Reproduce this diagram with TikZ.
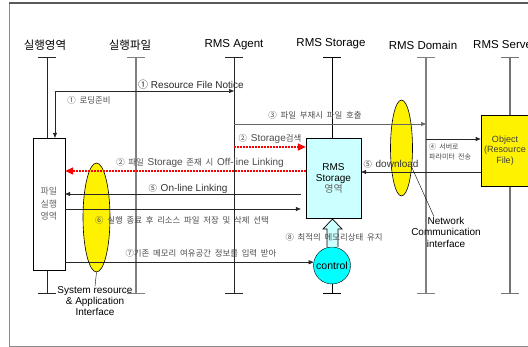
\documentclass[tikz,border=0pt]{standalone}
\usepackage{fontspec}
\setmainfont{Liberation Sans}
\newfontfamily\kr{Noto Sans CJK KR}[WordSpace=2.0]
\usetikzlibrary{arrows.meta,shapes.geometric}

\definecolor{storagecyan}{RGB}{204,255,255}
\definecolor{ctrlcyan}{RGB}{0,255,255}
\newcommand\lat[1]{{\rmfamily\fontsize{10}{11}\selectfont #1}}

\tikzset{
  head/.style={font=\fontsize{11.5}{13}\selectfont},
  msg/.style={-{Triangle[length=5pt,width=4pt]},line width=0.7pt,black!85},
  offmsg/.style={red,line width=1.5pt,dash pattern=on 1.5pt off 1.5pt,-{Triangle[length=8pt,width=7pt]}},
  lbl/.style={font=\fontsize{10}{11}\selectfont,inner sep=0pt,text=black!75},
  krlbl/.style={font=\kr\fontsize{8.4}{10}\selectfont,inner sep=0pt,text=black!70},
  iface/.style={ellipse,draw,fill=yellow,line width=0.6pt,inner sep=0pt},
}

\begin{document}
\begin{tikzpicture}[x=1pt,y=-1pt]
    \useasboundingbox (0,0) rectangle (528,347);
    \clip (0,0) rectangle (528,347);

    % Frame
    \draw[black!45,line width=0.8pt] (9,3) -- (9,346) -- (540,346);
    \draw[black!65,line width=1.3pt] (9,3) -- (540,3);

    % Headers
    \node[head] (hexec) at (45,45) {\kr 실행영역};
    \node[head] (hfile) at (130,45) {\kr 실행파일};
    \node[head] (hagent) at (234,45) {RMS Agent};
    \node[head] (hstorage) at (331,44) {RMS Storage};
    \node[head] (hdomain) at (423,45) {RMS Domain};
    \node[head,anchor=west,inner sep=0pt] (hserver) at (473,45) {RMS Server};

    % Lifelines with end ticks
    \foreach \name/\x/\col/\w in {exec/47/black!85/0.8, file/136/black!50/1.6,
        agent/234/black!85/0.7, storage/332/black/0.8, domain/426/black!50/1.1,
        server/510/black!55/1.1} {
      \coordinate (\name) at (\x,57);
      \draw[\col,line width=\w pt] (\x,57) -- (\x,293);
      \draw[\col,line width=0.8pt] (\x-9,57) -- (\x+9,57);
      \draw[\col,line width=0.8pt] (\x-9,293) -- (\x+9,293);
    }

    % Interfaces
    \node[iface,minimum width=27,minimum height=109] (sysif) at (96.5,217.5) {};
    \node[iface,minimum width=22,minimum height=96] (netif) at (401.5,148) {};
    \node[align=center,inner sep=0pt,font=\fontsize{10}{11}\selectfont] (sysiflbl) at (95,301)
      {System resource\\\& Application\\Interface};
    \node[align=center,inner sep=0pt,font=\fontsize{10}{11.5}\selectfont] (netiflbl) at (446,232)
      {Network\\Communication\\interface};
    \draw (sysif.south) -- (sysiflbl.north);
    \draw (netif.-62) -- ([xshift=-12pt]netiflbl.north);

    % Boxes
    \node[draw,fill=white,minimum width=32,minimum height=132,align=center,
      text=black!60,font=\kr\fontsize{9}{12.5}\selectfont] (execbox) at (49,204) {파일\\실행\\영역};
    \node[draw,fill=storagecyan,minimum width=55,minimum height=80,align=center,
      font=\fontsize{10}{11}\selectfont] (storage) at (333.5,178)
      {RMS\\Storage\\{\kr\color{black!60}영역}};
    \node[draw,fill=yellow,minimum width=44,minimum height=71,align=center,
      text=black!75,font=\fontsize{9}{10.5}\selectfont] (server) at (505,150.5)
      {Object\\(Resource\\File)};
    \node[circle,draw,fill=ctrlcyan,minimum size=37,inner sep=0pt,
      font=\fontsize{10.5}{12}\selectfont] (control) at (332,265.5) {control};

    % Hollow arrow from control up to storage
    \draw[fill=storagecyan,line width=0.7pt] (327,247) -- (327,229) -- (323,229) -- (332.5,219)
      -- (342,229) -- (338,229) -- (338,247);

    \coordinate (stin) at ([xshift=-5pt]storage.west);

    % Messages
    \draw[msg] (file |- 0,91) -| ([xshift=6pt]execbox.north);
    \draw[msg] (file |- 0,91) -- (agent |- 0,91);
    \draw[msg,black!60] (agent |- 0,124) -- (domain |- 0,124);
    \draw[offmsg] (agent |- 0,147) -- (storage.west |- 0,147);
    \draw[offmsg] (storage.west |- 0,171) -- (execbox.east |- 0,171);
    \draw[msg] (server.west |- 0,172) -- (storage.east |- 0,172);
    \draw[msg] (domain |- 0,139) -- (server.west |- 0,139);
    \draw[msg] (stin |- 0,194) -- (execbox.east |- 0,194);
    \draw[msg] (execbox.east |- 0,209) -- (stin |- 0,209);
    \draw[msg] (execbox.east |- control.170) -- (control.170);

    % Message labels
    \node[krlbl] (l1a) at (89,100) {① 로딩준비};
    \node[lbl,text=black!85] (l1b) at (191,85) {{\kr ①} Resource File Notice};
    \node[krlbl] (l3) at (315,115) {③ 파일 부재시 파일 호출};
    \node[krlbl] (l2a) at (270,139) {② \lat{Storage}검색};
    \node[krlbl] (l2b) at (200,163) {② 파일 \lat{Storage} 존재 시 \lat{Off-line Linking}};
    \node[krlbl,text=black!80] (l5a) at (391,164) {⑤ \lat{download}};
    \node[krlbl,anchor=west,align=left,font=\kr\fontsize{7}{10}\selectfont] (l4) at (429,152)
      {④ 서버로\\파라미터 전송};
    \node[krlbl,text=black!80] (l5b) at (188,189) {⑤ \lat{On-line Linking}};
    \node[krlbl] (l6) at (182,220) {⑥ 실행 종료 후 리소스 파일 저장 및 삭제 선택};
    \node[krlbl] (l8) at (334,237) {⑧ 최적의 메모리상태 유지};
    \node[krlbl] (l7) at (201,253) {⑦기존 메모리 여유공간 정보를 입력 받아};
\end{tikzpicture}
\end{document}
